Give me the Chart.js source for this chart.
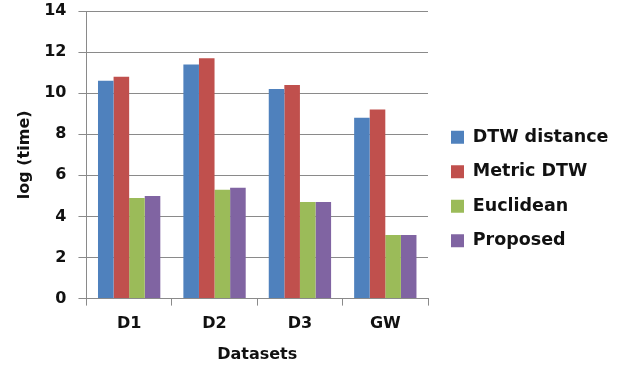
<!DOCTYPE html>
<html>
<head>
<meta charset="utf-8">
<script src="https://cdn.jsdelivr.net/npm/chart.js"></script>
<style>
  body { margin: 0; background: #fff; }
  #wrap { width: 628px; height: 366px; }
</style>
</head>
<body>
<div id="wrap"><canvas id="chart"></canvas></div>
<script>
// chart data
var categories = ["D1", "D2", "D3", "GW"];
var dtwDistance = [10.6, 11.4, 10.2, 8.8];
var metricDtw = [10.8, 11.7, 10.4, 9.2];
var euclidean = [4.9, 5.3, 4.7, 3.1];
var proposed = [5.0, 5.4, 4.7, 3.1];
var yTicks = [0, 2, 4, 6, 8, 10, 12, 14];

var gridColor = "#8a8a8a";
var textColor = "#111";
Chart.defaults.font.family = "'DejaVu Sans', sans-serif";
Chart.defaults.font.weight = "bold";
Chart.defaults.color = textColor;

// fixed legend width and a small offset so it sits like the original
var legendTweak = {
    id: "legendTweak",
    afterInit: function (chart) {
        var lg = chart.legend;
        var fit = lg.fit;
        lg.fit = function () {
            fit.apply(this, arguments);
            this.width = 200;
        };
        var draw = lg.draw;
        lg.draw = function () {
            this.ctx.save();
            this.ctx.translate(6, 5);
            draw.apply(this, arguments);
            this.ctx.restore();
        };
    }
};

var ctx = document.getElementById("chart").getContext("2d");
new Chart(ctx, {
    type: "bar",
    data: {
        labels: categories,
        datasets: [
            { label: "DTW distance", data: dtwDistance, backgroundColor: "#4F81BD" },
            { label: "Metric DTW", data: metricDtw, backgroundColor: "#C0504D" },
            { label: "Euclidean", data: euclidean, backgroundColor: "#9BBB59" },
            { label: "Proposed", data: proposed, backgroundColor: "#8064A2" }
        ]
    },
    options: {
        responsive: true,
        maintainAspectRatio: false,
        animation: false,
        datasets: { bar: { barPercentage: 1, categoryPercentage: 0.73 } },
        layout: { padding: { top: 2, right: 0, bottom: 0, left: 9 } },
        plugins: {
            tooltip: { enabled: false },
            legend: {
                position: "right",
                labels: {
                    boxWidth: 13,
                    boxHeight: 13,
                    padding: 17,
                    font: { size: 17.5, weight: "bold" }
                }
            }
        },
        scales: {
            x: {
                grid: {
                    offset: true,
                    drawOnChartArea: false,
                    tickLength: 7,
                    color: gridColor
                },
                border: { color: gridColor },
                ticks: { padding: 9, font: { size: 16 } },
                title: { display: true, text: "Datasets", font: { size: 16 }, padding: { top: 2, bottom: 2 } }
            },
            y: {
                min: 0,
                max: 14,
                afterBuildTicks: function (axis) {
                    axis.ticks = yTicks.map(function (v) { return { value: v }; });
                },
                afterFit: function (axis) {
                    axis.paddingTop = 11;
                },
                grid: { tickLength: 8, color: gridColor },
                border: { color: gridColor },
                ticks: { padding: 12, font: { size: 16 } },
                title: { display: true, text: "log (time)", font: { size: 16 }, padding: { top: 6, bottom: -2 } }
            }
        }
    },
    plugins: [legendTweak]
});
</script>
</body>
</html>
